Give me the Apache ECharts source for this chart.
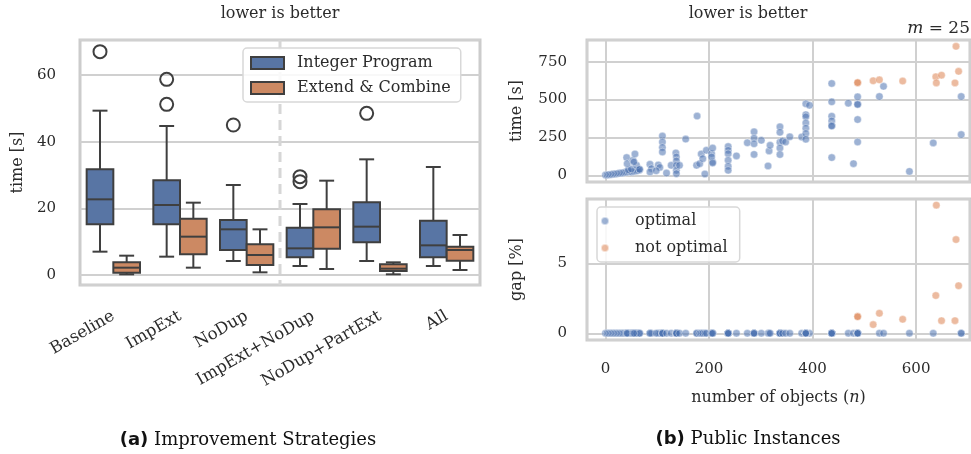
<!DOCTYPE html>
<html><head><meta charset="utf-8">
<script src="https://cdn.jsdelivr.net/npm/echarts@6/dist/echarts.min.js"></script>
<style>html,body{margin:0;padding:0;background:#fff}#c{width:971px;height:454px}</style>
</head><body><div id="c"></div>
<script>
// ---------- data ----------
const strategies = ['Baseline', 'ImpExt', 'NoDup', 'ImpExt+NoDup', 'NoDup+PartExt', 'All'];
// [whiskerLow, q1, median, q3, whiskerHigh]  (time in s)
const ipBoxes = [[7.0,15.2,22.7,31.7,49.3],[5.5,15.2,21.0,28.4,44.7],[4.2,7.5,13.7,16.5,27.0],[2.7,5.3,8.0,14.2,21.3],[4.2,9.8,14.5,21.8,34.7],[2.7,5.3,8.9,16.3,32.4]];
const ecBoxes = [[0.2,0.7,2.2,3.8,5.8],[2.2,6.2,11.5,16.9,21.7],[0.8,3.0,6.0,9.2,13.7],[1.8,7.9,14.3,19.7,28.3],[0.2,1.2,1.9,3.2,3.8],[1.5,4.3,7.5,8.5,12.0]];
// [category index, time]
const ipOutliers = [[0,67.0],[1,58.7],[1,51.2],[2,45.0],[3,29.5],[3,28.0],[4,48.5]];
const ecOutliers = [];
const leftTimeTicks = [0, 20, 40, 60];

// public instances: [n, time s, gap %]
const optimal = [
 [0,2,0],[3,3,0],[6,4,0],[9,5,0],[12,6,0],[15,8,0],[18,9,0],[21,10,0],[24,12,0],[27,13,0],[30,15,0],[33,16,0],[36,18,0],[39,20,0],[42,21,0],[45,23,0],[48,25,0],[51,22,0],[54,26,0],[57,28,0],[60,30,0],[63,32,0],[66,36,0],[44,36,0],[50,42,0],
 [41,117,0],[42,77,0],[53,99,0],[57,141,0],[60,66,0],[66,40,0],[55,88,0],
 [86,73,0],[89,44,0],[86,22,0],[102,68,0],[105,52,0],[98,30,0],[110,259,0],[110,220,0],[110,184,0],[110,154,0],[118,15,0],[127,66,0],
 [136,148,0],[137,121,0],[137,95,0],[137,66,0],[137,33,0],[137,11,0],[143,66,0],
 [155,239,0],[177,391,0],
 [176,66,0],[182,77,0],[185,141,0],[188,110,0],[192,9,0],[195,165,0],[205,143,0],[207,88,0],[207,180,0],[205,121,0],[207,81,0],
 [237,190,0],[237,165,0],[237,143,0],[237,99,0],[237,60,0],[237,33,0],
 [253,128,0],[274,215,0],
 [287,287,0],[287,245,0],[287,208,0],[287,138,0],
 [301,231,0],
 [314,62,0],[316,161,0],[318,198,0],
 [337,320,0],[337,284,0],[337,218,0],[337,180,0],[337,137,0],
 [342,227,0],[348,220,0],[356,254,0],
 [379,253,0],[387,472,0],[394,462,0],[387,400,0],[387,386,0],[387,346,0],[387,311,0],[387,276,0],[387,238,0],
 [437,606,0],[437,485,0],[437,390,0],[437,359,0],[437,329,0],[437,325,0],[437,117,0],
 [469,476,0],[479,77,0],
 [487,518,0],[487,471,0],[487,467,0],[487,368,0],[487,220,0],
 [529,520,0],[537,587,0],[587,26,0],[633,214,0],[687,520,0],[687,269,0]
];
const notOptimal = [
 [487,610,1.21],[487,612,1.18],[517,624,0.62],[529,630,1.43],[574,622,1.0],[638,650,2.7],[639,610,9.16],[649,661,0.9],[675,610,0.9],[677,851,6.7],[682,686,3.4]
];
const nTicks = [0, 200, 400, 600];
const timeTicks = [0, 250, 500, 750];
const gapTicks = [0, 5];

// ---------- styling ----------
const FONT = 'DejaVu Serif';
const TXT = '#2b2b2b';
const BLUE = '#5875a4', ORANGE = '#cc8963', LINE = '#3f3f3f';
const GRIDC = '#d0d0d0';

function boxRenderer(shift, fill) {
  return function (params, api) {
    const c = api.value(0);
    const band = api.size([1, 0])[0];
    const w = band * 0.4;
    const xc = api.coord([c, 0])[0] + shift * band;
    const y = k => api.coord([c, api.value(k)])[1];
    const lo = y(1), q1 = y(2), med = y(3), q3 = y(4), hi = y(5);
    const cap = w * 0.28;
    const ls = {stroke: LINE, lineWidth: 2, fill: null};
    return {type: 'group', children: [
      {type: 'line', shape: {x1: xc, y1: hi, x2: xc, y2: q3}, style: ls},
      {type: 'line', shape: {x1: xc, y1: q1, x2: xc, y2: lo}, style: ls},
      {type: 'line', shape: {x1: xc - cap, y1: hi, x2: xc + cap, y2: hi}, style: ls},
      {type: 'line', shape: {x1: xc - cap, y1: lo, x2: xc + cap, y2: lo}, style: ls},
      {type: 'rect', shape: {x: xc - w / 2, y: q3, width: w, height: q1 - q3}, style: {fill: fill, stroke: LINE, lineWidth: 2}},
      {type: 'line', shape: {x1: xc - w / 2, y1: med, x2: xc + w / 2, y2: med}, style: ls}
    ]};
  };
}
function outlierRenderer(shift) {
  return function (params, api) {
    const c = api.value(0);
    const band = api.size([1, 0])[0];
    const p = api.coord([c, api.value(1)]);
    return {type: 'circle', shape: {cx: p[0] + shift * band, cy: p[1], r: 6.5}, style: {fill: null, stroke: LINE, lineWidth: 2}};
  };
}
function sepRenderer(params, api) {
  const band = api.size([1, 0])[0];
  const x = api.coord([api.value(0), 0])[0] + band / 2;
  const cs = params.coordSys;
  return {type: 'line', shape: {x1: x, y1: cs.y, x2: x, y2: cs.y + cs.height},
          style: {stroke: '#d6d6d6', lineWidth: 3, lineDash: [10, 6]}};
}

const axisLbl = {fontFamily: FONT, fontSize: 15, color: TXT};
const nameStyle = {fontFamily: FONT, fontSize: 16, color: TXT};
const split = {show: true, lineStyle: {color: GRIDC, width: 2}};
const gridBase = {show: true, borderColor: '#cccccc', borderWidth: 3, containLabel: false};

const chart = echarts.init(document.getElementById('c'), null, {renderer: 'canvas'});
chart.setOption({
  animation: false,
  backgroundColor: '#fff',
  textStyle: {fontFamily: FONT},
  grid: [
    Object.assign({left: 80, top: 40, width: 400, height: 245}, gridBase),
    Object.assign({left: 587, top: 40, width: 383, height: 142}, gridBase),
    Object.assign({left: 587, top: 199, width: 383, height: 141}, gridBase)
  ],
  xAxis: [
    {type: 'category', gridIndex: 0, data: strategies, axisLine: {show: false}, axisTick: {show: false},
     splitLine: {show: false}, axisLabel: {rotate: 30, margin: 30, interval: 0, fontFamily: FONT, fontSize: 16.5, color: TXT}},
    {type: 'value', gridIndex: 1, min: -35.6, max: 704, minInterval: nTicks[1] - nTicks[0], maxInterval: nTicks[1] - nTicks[0],
     axisLine: {show: false}, axisTick: {show: false}, axisLabel: {show: false}, splitLine: split},
    {type: 'value', gridIndex: 2, min: -35.6, max: 704, minInterval: nTicks[1] - nTicks[0], maxInterval: nTicks[1] - nTicks[0],
     axisLine: {show: false}, axisTick: {show: false}, splitLine: split,
     axisLabel: Object.assign({margin: 22, showMinLabel: false, showMaxLabel: false}, axisLbl),
     name: '{r|number of objects (}{i|n}{r|)}', nameLocation: 'middle', nameGap: 50,
     nameTextStyle: {rich: {r: nameStyle, i: Object.assign({fontStyle: 'italic'}, nameStyle)}}}
  ],
  yAxis: [
    {type: 'value', gridIndex: 0, min: -3, max: 70.5, minInterval: leftTimeTicks[1] - leftTimeTicks[0], maxInterval: leftTimeTicks[1] - leftTimeTicks[0],
     axisLine: {show: false}, axisTick: {show: false}, splitLine: split,
     axisLabel: Object.assign({margin: 24, showMinLabel: false, showMaxLabel: false}, axisLbl),
     name: 'time [s]', nameLocation: 'middle', nameGap: 54, nameTextStyle: nameStyle},
    {type: 'value', gridIndex: 1, min: -44, max: 893, minInterval: timeTicks[1] - timeTicks[0], maxInterval: timeTicks[1] - timeTicks[0],
     axisLine: {show: false}, axisTick: {show: false}, splitLine: split,
     axisLabel: Object.assign({margin: 20, showMinLabel: false, showMaxLabel: false}, axisLbl),
     name: 'time [s]', nameLocation: 'middle', nameGap: 62, nameTextStyle: nameStyle},
    {type: 'value', gridIndex: 2, min: -0.48, max: 9.6, minInterval: gapTicks[1] - gapTicks[0], maxInterval: gapTicks[1] - gapTicks[0],
     axisLine: {show: false}, axisTick: {show: false}, splitLine: split,
     axisLabel: Object.assign({margin: 20, showMinLabel: false, showMaxLabel: false}, axisLbl),
     name: 'gap [%]', nameLocation: 'middle', nameGap: 62, nameTextStyle: nameStyle}
  ],
  legend: [
    {orient: 'vertical', left: 243, top: 48, itemWidth: 33, itemHeight: 12, itemGap: 9,
     padding: [7, 10, 6, 7], backgroundColor: 'rgba(255,255,255,0.85)', borderColor: '#d8d8d8', borderWidth: 1.5, borderRadius: 4,
     textStyle: {fontFamily: FONT, fontSize: 16, color: TXT, padding: [0, 0, 0, 8]},
     data: [
       {name: 'Integer Program', icon: 'rect', itemStyle: {color: BLUE, borderColor: LINE, borderWidth: 2}},
       {name: 'Extend & Combine', icon: 'rect', itemStyle: {color: ORANGE, borderColor: LINE, borderWidth: 2}}
     ]},
    {orient: 'vertical', left: 597, top: 207, itemWidth: 40, itemHeight: 8, itemGap: 11,
     padding: [6, 12, 6, 3], backgroundColor: 'rgba(255,255,255,0.85)', borderColor: '#d8d8d8', borderWidth: 1.5, borderRadius: 4,
     textStyle: {fontFamily: FONT, fontSize: 16, color: TXT, padding: [0, 0, 0, 5]},
     data: [{name: 'optimal', icon: 'circle'}, {name: 'not optimal', icon: 'circle'}]}
  ],
  graphic: [
    {type: 'text', style: {text: 'lower is better', x: 280, y: 14, align: 'center', verticalAlign: 'middle', font: '16px "DejaVu Serif"', fill: TXT}},
    {type: 'text', style: {text: 'lower is better', x: 748, y: 14, align: 'center', verticalAlign: 'middle', font: '16px "DejaVu Serif"', fill: TXT}},
    {type: 'text', style: {text: '{i|m} = 25', x: 970, y: 29, align: 'right', verticalAlign: 'middle', font: '17px "DejaVu Serif"', fill: TXT,
      rich: {i: {fontFamily: FONT, fontStyle: 'italic', fontSize: 17, fill: TXT}}}},
    {type: 'text', style: {text: '{b|(a)} Improvement Strategies', x: 248, y: 440, align: 'center', verticalAlign: 'middle', font: '18px "DejaVu Serif"', fill: '#111',
      rich: {b: {fontFamily: 'DejaVu Sans', fontWeight: 'bold', fontSize: 18, fill: '#111'}}}},
    {type: 'text', style: {text: '{b|(b)} Public Instances', x: 748, y: 439, align: 'center', verticalAlign: 'middle', font: '18px "DejaVu Serif"', fill: '#111',
      rich: {b: {fontFamily: 'DejaVu Sans', fontWeight: 'bold', fontSize: 18, fill: '#111'}}}}
  ],
  series: [
    {type: 'custom', name: 'sep', xAxisIndex: 0, yAxisIndex: 0, data: [[2, 0]], renderItem: sepRenderer, silent: true, z: 1},
    {type: 'custom', name: 'Integer Program', xAxisIndex: 0, yAxisIndex: 0, itemStyle: {color: BLUE},
     data: ipBoxes.map((b, i) => [i].concat(b)), renderItem: boxRenderer(-0.2, BLUE), z: 3},
    {type: 'custom', name: 'Extend & Combine', xAxisIndex: 0, yAxisIndex: 0, itemStyle: {color: ORANGE},
     data: ecBoxes.map((b, i) => [i].concat(b)), renderItem: boxRenderer(0.2, ORANGE), z: 3},
    {type: 'custom', name: 'ipOut', xAxisIndex: 0, yAxisIndex: 0, data: ipOutliers, renderItem: outlierRenderer(-0.2), z: 3},
    {type: 'custom', name: 'ecOut', xAxisIndex: 0, yAxisIndex: 0, data: ecOutliers, renderItem: outlierRenderer(0.2), z: 3},
    {type: 'scatter', name: 'optimal', xAxisIndex: 1, yAxisIndex: 1, symbolSize: 7.5,
     itemStyle: {color: '#4c72b0', opacity: 0.55, borderColor: '#fff', borderWidth: 0.7},
     data: optimal.map(d => [d[0], d[1]]), z: 3},
    {type: 'scatter', name: 'not optimal', xAxisIndex: 1, yAxisIndex: 1, symbolSize: 7.5,
     itemStyle: {color: '#dd8452', opacity: 0.55, borderColor: '#fff', borderWidth: 0.7},
     data: notOptimal.map(d => [d[0], d[1]]), z: 3},
    {type: 'scatter', name: 'optimal', xAxisIndex: 2, yAxisIndex: 2, symbolSize: 7.5,
     itemStyle: {color: '#4c72b0', opacity: 0.55, borderColor: '#fff', borderWidth: 0.7},
     data: optimal.map(d => [d[0], d[2]]), z: 3},
    {type: 'scatter', name: 'not optimal', xAxisIndex: 2, yAxisIndex: 2, symbolSize: 7.5,
     itemStyle: {color: '#dd8452', opacity: 0.55, borderColor: '#fff', borderWidth: 0.7},
     data: notOptimal.map(d => [d[0], d[2]]), z: 3}
  ]
});
</script></body></html>
